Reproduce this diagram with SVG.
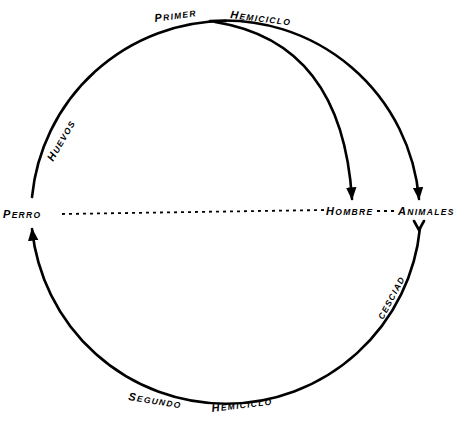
<svg xmlns="http://www.w3.org/2000/svg" width="463" height="437" viewBox="0 0 463 437">
<style>
.ln{fill:none;stroke:#000;stroke-width:2.6;stroke-linecap:round}
.ds{fill:none;stroke:#000;stroke-width:1.8;stroke-dasharray:3 4}
.t{font-family:"Liberation Sans",Arial,sans-serif;font-style:italic;font-weight:bold;font-size:11px;fill:#000;letter-spacing:1.3px}
.s{font-size:8.5px}
</style>
<defs>
<marker id="ah" viewBox="0 0 10 10" refX="9" refY="5" markerWidth="5" markerHeight="5" markerUnits="strokeWidth" orient="auto">
<path d="M0 1 L10 5 L0 9 Z" fill="#000"/>
</marker>
</defs>
<rect width="463" height="437" fill="#fff"/>
<g id="connectors">
<path class="ln" d="M 32 197 A 195 195 0 0 1 226 21"/>
<path class="ln" d="M 210 21 A 195 195 0 0 1 419 199" marker-end="url(#ah)"/>
<path class="ln" d="M 215 22 Q 342 42 352 199" marker-end="url(#ah)"/>
<path class="ln" d="M 420 228 A 195 195 0 0 1 32 229" marker-end="url(#ah)"/>
<path class="ln" d="M 414 221 L 419 230 L 424 221"/>
<path class="ds" d="M 62 214 L 325 210"/>
<path class="ds" d="M 377 211 L 397 211"/>
</g>
<g id="primer-hemiciclo">
<text class="t" transform="translate(155,22) rotate(-8)">P<tspan class="s">RIMER</tspan></text>
<text class="t" transform="translate(230,18) rotate(7)">H<tspan class="s">EMICICLO</tspan></text>
</g>
<g id="huevos">
<text class="t" transform="translate(53,162) rotate(-60)">H<tspan class="s">UEVOS</tspan></text>
</g>
<g id="perro">
<text class="t" x="3" y="218">P<tspan class="s">ERRO</tspan></text>
</g>
<g id="hombre">
<text class="t" x="326" y="215">H<tspan class="s">OMBRE</tspan></text>
</g>
<g id="animales">
<text class="t" x="398" y="215">A<tspan class="s">NIMALES</tspan></text>
</g>
<g id="cesciad">
<text class="t" transform="translate(383,320) rotate(-62)"><tspan class="s">CESCIAD</tspan></text>
</g>
<g id="segundo-hemiciclo">
<text class="t" transform="translate(128,400) rotate(9)">S<tspan class="s">EGUNDO</tspan></text>
<text class="t" transform="translate(212,412) rotate(-7)">H<tspan class="s">EMICICLO</tspan></text>
</g>
</svg>
